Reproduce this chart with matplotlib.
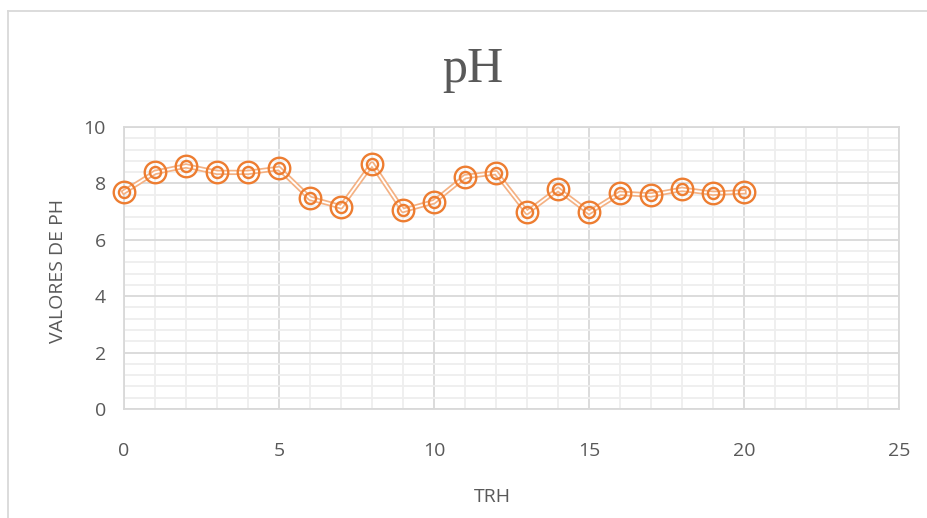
import matplotlib
matplotlib.use("Agg")
import matplotlib.pyplot as plt
from matplotlib.lines import Line2D
from matplotlib.ticker import MultipleLocator

trh = [0, 1, 2, 3, 4, 5, 6, 7, 8, 9, 10, 11, 12, 13, 14, 15, 16, 17, 18, 19, 20]
ph = [7.70, 8.39, 8.62, 8.39, 8.39, 8.53, 7.47, 7.17, 8.69, 7.04, 7.35,
      8.24, 8.38, 6.97, 7.79, 6.97, 7.65, 7.59, 7.79, 7.65, 7.70]

title = "pH"
xlabel = "TRH"
ylabel = "VALORES DE PH"

W, H = 928, 518
fig = plt.figure(figsize=(W / 100, H / 100), dpi=100)
ax = fig.add_axes([124 / W, 1 - 409 / H, (899 - 124) / W, (409 - 127) / H])

gray = "#595959"
sans = ["Open Sans", "DejaVu Sans"]

# chart frame (partially visible)
fig.add_artist(Line2D([8 / W, 8 / W], [0, 1 - 10.5 / H], transform=fig.transFigure,
                      color="#d9d9d9", lw=1.3))
fig.add_artist(Line2D([8 / W, 1], [1 - 10.5 / H, 1 - 10.5 / H], transform=fig.transFigure,
                      color="#d9d9d9", lw=1.3))

ax.set_xlim(0, 25)
ax.set_ylim(0, 10)
ax.xaxis.set_major_locator(MultipleLocator(5))
ax.xaxis.set_minor_locator(MultipleLocator(1))
ax.yaxis.set_major_locator(MultipleLocator(2))
ax.yaxis.set_minor_locator(MultipleLocator(0.4))
ax.grid(which="minor", color="#eeeeee", lw=1.3)
ax.grid(which="major", color="#d9d9d9", lw=1.3)
ax.set_axisbelow(True)
for s in ax.spines.values():
    s.set_color("#d9d9d9")
    s.set_linewidth(1.3)
ax.tick_params(which="both", length=0)
ax.tick_params(axis="x", pad=24, labelsize=14, labelcolor=gray)
ax.tick_params(axis="y", pad=13, labelsize=14, labelcolor=gray)
for lab in ax.get_xticklabels() + ax.get_yticklabels():
    lab.set_family(sans)

# double line
ax.plot(trh, ph, color="#f4b183", lw=3.8, solid_joinstyle="round", zorder=3, clip_on=False)
ax.plot(trh, ph, color="white", lw=1.3, solid_joinstyle="round", zorder=3.1, clip_on=False)
# double circle markers
ax.plot(trh, ph, ls="none", marker="o", ms=15.5, mfc="none", mec="#ed7d31", mew=1.7,
        zorder=4, clip_on=False)
ax.plot(trh, ph, ls="none", marker="o", ms=8, mfc="none", mec="#ed7d31", mew=1.7,
        zorder=4, clip_on=False)

fig.text(473 / W, 1 - 70 / H, title, ha="center", va="center", fontsize=36,
         color=gray, family=["Liberation Serif", "DejaVu Serif"])
fig.text(492 / W, 1 - 497 / H, xlabel, ha="center", va="center", fontsize=14,
         color=gray, family=sans)
fig.text(58 / W, 1 - 271 / H, ylabel, ha="center", va="center", fontsize=14,
         color=gray, family=sans, rotation=90)

fig.savefig("out.png", dpi=100, facecolor="white")
